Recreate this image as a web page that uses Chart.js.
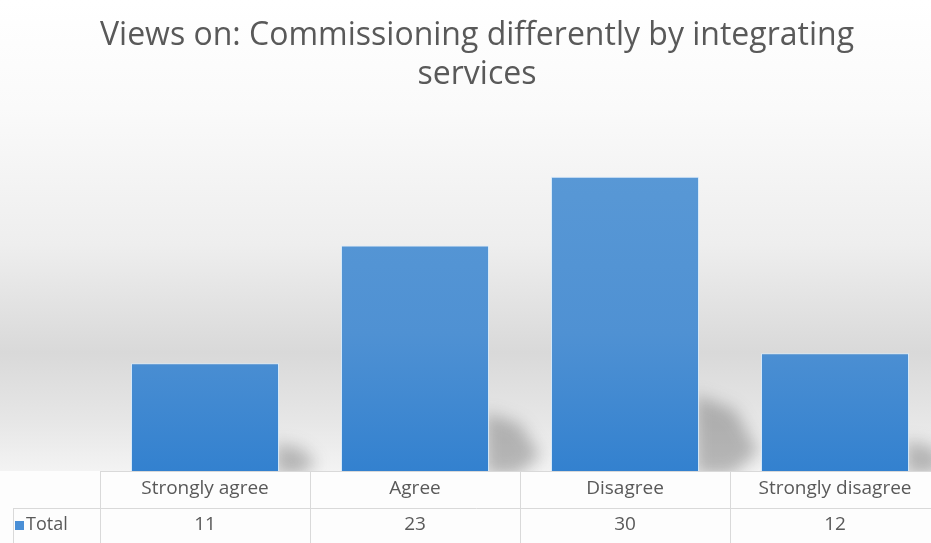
<!DOCTYPE html>
<html>
<head>
<meta charset="utf-8">
<script src="https://cdn.jsdelivr.net/npm/chart.js@4"></script>
<style>
  html, body { margin: 0; padding: 0; overflow: hidden; background: #ffffff; }
  #wrap { width: 941px; height: 543px; position: relative; }
</style>
</head>
<body>
<div id="wrap"><canvas id="myChart"></canvas></div>
<script>
const chartTitle = ["Views on: Commissioning differently by integrating", "services"];
const categories = ["Strongly agree", "Agree", "Disagree", "Strongly disagree"];
const seriesName = "Total";
const totals = [11, 23, 30, 12];

const textColor = "#595959";
const gridColor = "#d9d9d9";
const fontFamily = "'Open Sans', Lato, sans-serif";

// soft grey backdrop behind the plot
const backdrop = {
  id: "backdrop",
  beforeDraw(chart) {
    const ctx = chart.ctx;
    const h = chart.height;
    const g = ctx.createLinearGradient(0, 0, 0, h);
    g.addColorStop(0, "#ffffff");
    g.addColorStop(0.2, "#fafafa");
    g.addColorStop(0.45, "#eeeeee");
    g.addColorStop(0.65, "#d9d9d9");
    g.addColorStop(0.78, "#e7e7e7");
    g.addColorStop(0.867, "#f3f3f3");
    g.addColorStop(0.868, "#fdfdfd");
    g.addColorStop(1, "#fdfdfd");
    ctx.save();
    ctx.fillStyle = g;
    ctx.fillRect(0, 0, chart.width, h);
    ctx.restore();
  }
};

// blurred cast shadow to the right of each bar
const barShadows = {
  id: "barShadows",
  beforeDatasetsDraw(chart) {
    const ctx = chart.ctx;
    const area = chart.chartArea;
    const meta = chart.getDatasetMeta(0);
    ctx.save();
    ctx.beginPath();
    ctx.rect(area.left, area.top, area.right - area.left, area.bottom - area.top);
    ctx.clip();
    ctx.filter = "blur(8px)";
    ctx.fillStyle = "rgba(60,60,60,0.33)";
    meta.data.forEach(bar => {
      const right = bar.x + bar.width / 2;
      const base = bar.base;
      const s = (base - bar.y) * 0.26;
      const d = 25 + s * 0.45;
      ctx.beginPath();
      ctx.moveTo(right - 4, base - s);
      ctx.lineTo(right + d * 0.6, base - s * 0.8);
      ctx.lineTo(right + d, base - s * 0.25);
      ctx.lineTo(right + d * 0.55, base + 4);
      ctx.lineTo(right - 4, base + 4);
      ctx.closePath();
      ctx.fill();
    });
    ctx.restore();
  }
};

// data table under the plot
const dataTable = {
  id: "dataTable",
  afterDraw(chart) {
    const ctx = chart.ctx;
    const area = chart.chartArea;
    const x = chart.scales.x;
    const top = area.bottom;
    const mid = top + 37;
    const bottom = chart.height;
    const left = area.left;
    const right = area.right;
    const step = (right - left) / categories.length;

    ctx.save();
    ctx.strokeStyle = gridColor;
    ctx.lineWidth = 1;
    ctx.beginPath();
    ctx.moveTo(left, top + 0.5); ctx.lineTo(right, top + 0.5);
    ctx.moveTo(13, mid + 0.5); ctx.lineTo(right, mid + 0.5);
    ctx.moveTo(13.5, mid); ctx.lineTo(13.5, bottom);
    for (let i = 0; i <= categories.length; i++) {
      const lx = Math.round(left + step * i) + 0.5;
      ctx.moveTo(lx, top); ctx.lineTo(lx, bottom);
    }
    ctx.stroke();

    ctx.fillStyle = textColor;
    ctx.font = "19px " + fontFamily;
    ctx.textAlign = "center";
    ctx.textBaseline = "middle";
    categories.forEach((c, i) => {
      const cx = x.getPixelForValue(i);
      ctx.fillText(c, cx, top + 18);
      ctx.fillText(String(totals[i]), cx, mid + 17);
    });

    ctx.fillStyle = "#4a8fd6";
    ctx.fillRect(15, mid + 13, 9, 9);
    ctx.fillStyle = textColor;
    ctx.font = "18px " + fontFamily;
    ctx.textAlign = "left";
    ctx.fillText(seriesName, 26, mid + 17);
    ctx.restore();
  }
};

const ctx = document.getElementById("myChart").getContext("2d");
const chart = new Chart(ctx, {
  type: "bar",
  data: {
    labels: categories,
    datasets: [
      {
        label: seriesName,
        data: totals,
        backgroundColor: context => {
          const area = context.chart.chartArea;
          if (!area) return "#4a8fd6";
          const g = context.chart.ctx.createLinearGradient(0, area.top, 0, area.bottom);
          g.addColorStop(0, "#5b9ad6");
          g.addColorStop(0.6, "#4f91d3");
          g.addColorStop(1, "#3381cf");
          return g;
        },
        borderColor: "rgba(215,235,252,0.9)",
        borderWidth: 1,
        categoryPercentage: 1,
        barPercentage: 0.705
      }
    ]
  },
  options: {
    responsive: true,
    maintainAspectRatio: false,
    animation: false,
    layout: { padding: { left: 14, right: 1, top: 0, bottom: 72 } },
    scales: {
      x: { display: false },
      y: {
        display: true,
        min: 0,
        max: 35,
        ticks: { display: false },
        grid: { display: false },
        border: { display: false },
        afterFit: scale => { scale.width = 86; }
      }
    },
    plugins: {
      legend: { display: false },
      tooltip: { enabled: false },
      title: {
        display: true,
        text: chartTitle,
        color: textColor,
        font: { family: fontFamily, size: 32, weight: "normal", lineHeight: 1.2 },
        padding: { top: 17, bottom: 34 }
      }
    }
  },
  plugins: [backdrop, barShadows, dataTable]
});
</script>
</body>
</html>
